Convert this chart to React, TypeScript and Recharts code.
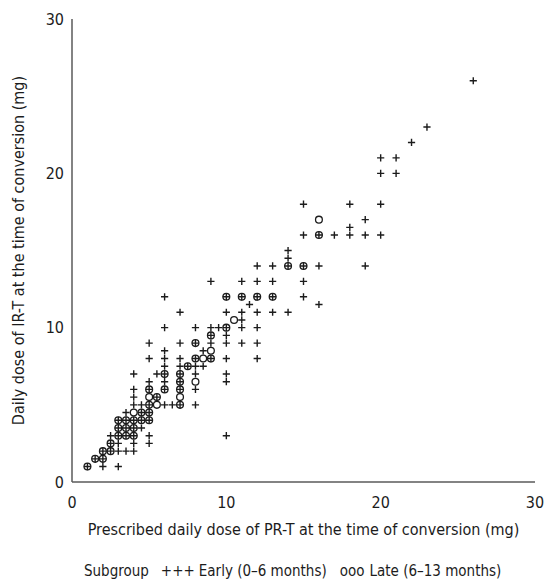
import React from "react";
import { ScatterChart, Scatter, XAxis, YAxis, Label } from "recharts";

const FONT = "'Liberation Sans Narrow', 'DejaVu Sans Condensed', 'Roboto', sans-serif";
const INK = "#1c1c1c";

const xTicks = [0, 10, 20, 30];
const yTicks = [0, 10, 20, 30];

const xTitle = "Prescribed daily dose of PR-T at the time of conversion (mg)";
const yTitle = "Daily dose of IR-T at the time of conversion (mg)";

// Early subgroup (+), [PR-T dose, IR-T dose], read row by row
const earlyPoints: [number, number][] = [
  [1, 1], [2, 1], [3, 1],
  [1.5, 1.5], [2, 1.5],
  [2, 2], [2.5, 2], [3, 2], [3.5, 2], [4, 2],
  [2.5, 2.5], [3, 2.5], [4, 2.5], [5, 2.5],
  [2.5, 3], [3, 3], [3.5, 3], [4, 3], [5, 3], [10, 3],
  [3, 3.5], [3.5, 3.5], [4, 3.5], [4.5, 3.5],
  [3, 4], [3.5, 4], [4, 4], [4.5, 4], [5, 4],
  [3.5, 4.5], [4.5, 4.5], [5, 4.5],
  [4, 5], [4.5, 5], [5, 5], [6, 5], [6.5, 5], [7, 5], [8, 5],
  [4, 5.5], [5.5, 5.5],
  [4, 6], [5, 6], [6, 6], [7, 6], [8, 6],
  [5, 6.5], [6, 6.5], [7, 6.5], [10, 6.5],
  [4, 7], [5.5, 7], [6, 7], [7, 7], [8, 7], [10, 7],
  [6, 7.5], [7, 7.5], [7.5, 7.5], [8, 7.5], [8.5, 7.5],
  [5, 8], [6, 8], [7, 8], [8, 8], [9, 8], [10, 8], [12, 8],
  [6, 8.5], [8.5, 8.5],
  [5, 9], [7, 9], [8, 9], [9, 9], [10, 9], [11, 9], [12, 9],
  [9, 9.5], [10, 9.5],
  [6, 10], [8, 10], [9, 10], [9.5, 10], [10, 10], [11, 10], [12, 10],
  [11, 10.5],
  [7, 11], [10, 11], [11, 11], [12, 11], [13, 11], [14, 11],
  [11.5, 11.5], [16, 11.5],
  [6, 12], [10, 12], [11, 12], [12, 12], [13, 12], [15, 12],
  [9, 13], [11, 13], [12, 13], [13, 13], [15, 13],
  [12, 14], [13, 14], [14, 14], [15, 14], [16, 14], [19, 14],
  [14, 14.5], [14, 15],
  [15, 16], [16, 16], [17, 16], [18, 16], [19, 16], [20, 16],
  [18, 16.5], [19, 17],
  [15, 18], [18, 18], [20, 18],
  [20, 20], [21, 20],
  [20, 21], [21, 21],
  [22, 22], [23, 23], [26, 26],
];

// Late subgroup (o)
const latePoints: [number, number][] = [
  [1, 1],
  [1.5, 1.5], [2, 1.5],
  [2, 2], [2.5, 2],
  [2.5, 2.5],
  [3, 3], [3.5, 3], [4, 3],
  [3, 3.5], [3.5, 3.5], [4, 3.5],
  [3, 4], [3.5, 4], [4, 4], [4.5, 4], [5, 4],
  [4, 4.5], [4.5, 4.5], [5, 4.5],
  [5, 5], [5.5, 5], [7, 5],
  [5, 5.5], [5.5, 5.5], [7, 5.5],
  [5, 6], [6, 6], [7, 6],
  [7, 6.5], [8, 6.5],
  [6, 7], [7, 7],
  [7.5, 7.5],
  [8, 8], [8.5, 8], [9, 8],
  [9, 8.5],
  [8, 9],
  [9, 9.5],
  [10, 10],
  [10.5, 10.5],
  [10, 12], [11, 12], [12, 12], [13, 12],
  [14, 14], [15, 14],
  [16, 16], [16, 17],
];

const toRows = (pts: [number, number][]) => pts.map(([pr, ir]) => ({ pr, ir }));

const Cross = (props: any) => {
  const { cx, cy } = props;
  if (cx == null || cy == null) return null;
  return (
    <path
      d={`M${cx - 3.6},${cy}H${cx + 3.6}M${cx},${cy - 3.6}V${cy + 3.6}`}
      stroke={INK}
      strokeWidth={1.4}
      fill="none"
    />
  );
};

const Ring = (props: any) => {
  const { cx, cy } = props;
  if (cx == null || cy == null) return null;
  return <circle cx={cx} cy={cy} r={3.4} fill="none" stroke={INK} strokeWidth={1.3} />;
};

const tickStyle = { fontSize: 16, fill: INK, fontFamily: FONT };
const labelStyle = { fontSize: 16, fill: INK, fontFamily: FONT };

export default function App() {
  return (
    <div style={{ position: "absolute", left: 0, top: 0, width: 546, height: 583, background: "#fff", fontFamily: FONT }}>
      <ScatterChart width={546} height={583} margin={{ top: 19, right: 11, left: 12, bottom: 41 }}>
        <XAxis
          type="number"
          dataKey="pr"
          domain={[0, 30]}
          ticks={xTicks}
          tickLine={false}
          tickMargin={9}
          axisLine={{ stroke: "#5a5a5a", strokeWidth: 1.5 }}
          tick={tickStyle}
          height={60}
        >
          <Label value={xTitle} position="insideTop" offset={42} style={labelStyle} />
        </XAxis>
        <YAxis
          type="number"
          dataKey="ir"
          domain={[0, 30]}
          ticks={yTicks}
          tickLine={false}
          axisLine={{ stroke: "#5a5a5a", strokeWidth: 1.5 }}
          tick={tickStyle}
          width={60}
        >
          <Label
            value={yTitle}
            angle={-90}
            position="insideLeft"
            offset={6}
            style={{ ...labelStyle, textAnchor: "middle" }}
          />
        </YAxis>
        <Scatter name="Early" data={toRows(earlyPoints)} shape={Cross} isAnimationActive={false} />
        <Scatter name="Late" data={toRows(latePoints)} shape={Ring} isAnimationActive={false} />
      </ScatterChart>
      <div
        style={{
          position: "absolute",
          top: 564,
          left: 84,
          display: "flex",
          fontSize: 15,
          lineHeight: "15px",
          color: INK,
          whiteSpace: "pre",
        }}
      >
        <span>Subgroup</span>
        <span style={{ marginLeft: 12 }}>+++</span>
        <span style={{ marginLeft: 4 }}>Early (0–6 months)</span>
        <span style={{ marginLeft: 13 }}>ooo</span>
        <span style={{ marginLeft: 5 }}>Late (6–13 months)</span>
      </div>
    </div>
  );
}
